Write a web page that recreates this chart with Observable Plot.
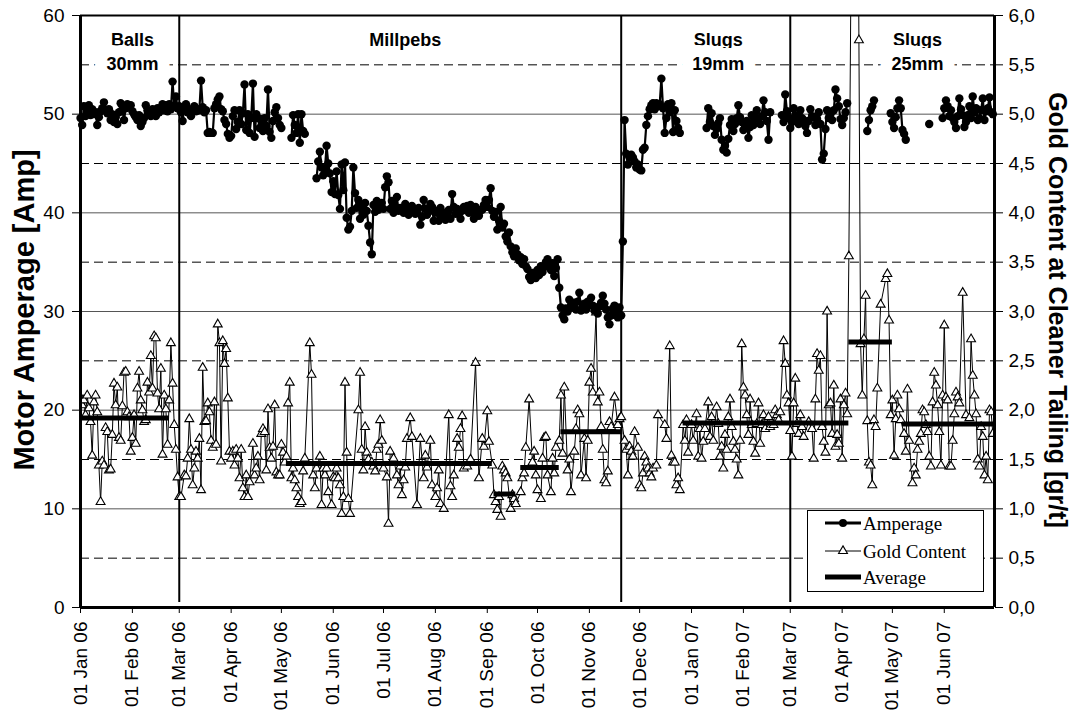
<!DOCTYPE html>
<html>
<head>
<meta charset="utf-8">
<script src="https://cdn.jsdelivr.net/npm/d3@7"></script>
<script src="https://cdn.jsdelivr.net/npm/@observablehq/plot@0.6"></script>
<style>
  html, body { margin: 0; padding: 0; background: #fff; }
  #chart { width: 1073px; height: 712px; }
</style>
</head>
<body>
<div id="chart"></div>
<script>
// ---------- DATA ----------
// day offsets from 01 Jan 2006
const startDate = Date.UTC(2006, 0, 1);
const endDay = 546; // 01 Jul 2007

// Amperage runs: [first day, daily values]
const ampBalls = [0, [49.6,48.9,50.8,49.8,50.3,50.9,49.9,50.5,50.0,50.2,48.9,49.7,50.3,50.6,51.2,50.4,50.1,50.5,49.4,50.0,
  49.2,49.7,49.0,50.2,51.1,50.4,49.4,50.6,51.0,50.8,50.9,50.3,50.0,49.7,49.4,49.9,48.8,49.2,49.6,50.9,
  50.4,50.1,49.8,50.5,50.3,49.8,50.6,50.2,50.6,51.0,50.4,50.9,50.3,51.0,50.5,53.3,50.8,51.8,50.6,
  50.8,50.2,49.3,50.6,51.0,50.2,50.5,49.8,50.4,50.8,50.3,50.5,50.4,53.4,50.7,50.2,50.4,48.1,48.2,48.1,
  48.1,50.6,51.0,51.5,51.8,50.5,50.3,49.4,49.0,48.0,47.6,47.8,49.8,50.4,48.5,49.2,50.4,49.0,50.1,53.0,
  48.4,50.0,48.1,49.6,53.1,47.7,50.0,49.6,48.6,49.5,48.3,49.6,48.8,52.5,48.2,47.6,49.3,50.2,50.7,49.6,
  48.9,48.6]];
const ampMillpebsA = [126, [47.6,49.9,48.9,48.1,50.0,47.1,50.0,48.3,48.0]];
const ampMillpebsB = [141, [43.5,45.2,46.2,44.6,43.8,44.4,46.8,45.0,44.0,42.1,
  43.2,41.9,44.2,41.8,40.4,44.9,42.3,45.1,39.5,38.3,
  38.6,40.2,44.6,42.0,40.5,41.3,39.4,40.6,39.8,41.0,
  40.2,38.7,37.0,35.8,40.8,40.1,41.2,40.3,40.6,41.0,
  40.4,42.6,43.7,43.1,40.4,41.2,40.0,40.6,41.6,40.2,
  40.5,40.3,40.0,40.9,40.5,39.8,40.3,40.7,40.3,39.9,
  40.0,40.5,38.8,39.6,41.3,40.4,39.8,40.1,40.9,40.6,
  39.2,40.2,40.0,39.2,40.5,40.1,39.7,39.3,39.6,40.3,
  39.4,41.9,40.6,39.9,40.4,39.9,39.4,40.2,40.6,40.3,
  40.7,40.0,40.8,40.1,39.4,40.6,40.2,39.7,40.3,
  40.3,40.8,41.3,40.6,41.3,42.5,40.2,39.6,40.1,38.3,
  39.2,40.6,38.5,38.9,37.6,37.1,38.0,36.6,36.0,35.6,
  36.4,35.8,35.2,35.5,34.8,35.3,34.6,34.3,33.5,33.2,
  33.9,33.9,33.4,34.2,33.7,34.6,34.0,34.5,35.0,35.3,
  34.8,34.2,34.9,33.6,34.4,35.3,32.4,30.4,29.6,29.2,
  30.3,30.0,31.2,30.6,30.4,30.9,30.2,31.0,31.9,30.1,
  30.5,30.8,30.2,31.0,30.7,31.4,30.6,30.1,30.4,29.8,
  30.5,30.9,31.6,30.8,30.2,29.4,28.7,29.6,30.3,30.6,
  30.0,29.4,30.4,29.6,37.1,49.4,46.0,44.9,45.6,45.9,
  45.6,45.2,44.6,44.9,44.4,44.3,46.4,46.6,48.9,49.8,
  50.5,50.9,51.1,50.5,51.1,50.8,51.0,53.6,50.6,48.1,
  49.6,51.0,50.2,51.1,48.2,50.4,49.3,48.6,48.1]];
const ampSlugs19 = [374, [48.6,50.6,49.2,50.1,48.8,47.9,48.5,49.1,49.6,47.4,
  46.4,46.8,46.1,47.5,48.9,49.5,48.3,49.0,49.6,50.9,
  49.7,49.2,48.4,48.8,49.3,47.6,48.7,49.9,48.9,49.6,
  50.4,49.5,49.0,49.8,51.4,50.2,49.3,47.4,50.2]];
const ampSlugs25A = [419, [49.9,49.2,52.0,50.3,49.6,48.6,49.2,50.6,49.9,49.4,
  49.0,50.4,49.6,49.4,48.8,48.1,49.3,50.5,49.8,49.7,
  48.9,49.5,50.2,49.0,45.4,46.0,48.5,50.4,49.6,50.0,
  49.4,50.4,52.5,51.6,50.8,49.5,48.9,49.6,50.2,51.1]];
const ampSlugs25B = [470, [48.3,49.4,50.4,50.8,51.4]];
const ampSlugs25C = [484, [50.1,49.2,48.6,49.7,50.6,51.4,50.6,48.4,48.0,47.4]];
const ampSlugs25D = [507, [49.0]];
const ampSlugs25E = [515, [49.6,50.6,51.4,50.8,49.8,50.4,49.6,49.2,48.6,49.8,
  51.6,50.5,49.9,48.7,49.2,49.9,50.8,49.6,51.8,50.2,
  50.6,49.4,49.6,50.4,51.6,49.4,50.3,50.6,51.7,50.2,50.0]];

// Gold content [day, g/t]
const goldBalls = [[0,2.13],[1,2.05],[2,2.10],[3,1.95],[4,2.15],[5,2.02],[6,1.88],[7,1.54],[8,2.08],[9,2.15],[10,1.98],[11,1.44],[12,1.07],[13,1.48],[14,1.44],[15,1.82],[16,1.78],[17,1.39],[18,1.40],[19,1.75],[20,2.27],[21,2.05],[22,2.23],[23,1.72],[24,1.69],[25,2.04],[26,2.38],[27,2.39],[28,1.98],[29,1.93],[30,1.58],[31,1.72],[32,1.95],[33,1.66],[34,2.22],[35,2.39],[36,2.10],[37,2.00],[38,1.88],[39,1.90],[40,2.28],[41,2.18],[42,2.55],[43,2.22],[44,2.75],[45,2.73],[46,2.17],[47,2.01],[48,2.42],[49,1.55],[50,2.15],[51,2.01],[52,1.65],[53,2.10],[54,2.68],[55,2.27],[56,1.85],[57,1.60],[58,1.32]];
const goldMillpebs = [[59,1.12],[60,1.12],[62,1.34],[63,1.33],[64,1.51],[65,1.91],[66,1.60],[67,1.24],[68,1.41],[69,1.58],[70,1.51],[71,1.71],[72,1.19],[73,2.43],[74,1.88],[75,1.89],[76,2.07],[77,1.98],[78,1.69],[79,1.62],[80,2.08],[81,1.65],[82,2.87],[83,2.68],[84,1.48],[85,2.70],[86,2.47],[87,2.62],[88,2.12],[89,1.58],[90,1.51],[91,1.58],[92,1.44],[93,1.60],[94,1.51],[95,1.31],[96,1.60],[97,1.21],[98,1.12],[99,1.34],[100,1.12],[101,1.27],[103,1.66],[104,1.34],[105,1.41],[106,1.53],[107,1.29],[108,1.76],[109,1.81],[110,1.78],[111,1.39],[112,2.01],[113,1.62],[114,1.51],[115,1.63],[116,2.05],[117,1.37],[118,1.34],[119,1.34],[120,1.65],[121,1.57],[122,1.47],[123,1.53],[124,2.07],[125,2.28],[126,1.31],[127,1.41],[128,1.29],[129,1.21],[130,1.12],[131,1.05],[132,1.07],[133,1.38],[134,1.51],[137,2.68],[138,2.36],[139,1.34],[140,1.21],[141,1.41],[143,1.53],[144,1.04],[145,1.41],[146,1.34],[147,1.41],[148,1.17],[150,1.04],[151,1.32],[152,1.31],[153,1.41],[154,1.31],[155,1.24],[156,0.95],[157,1.12],[158,2.28],[159,1.57],[160,1.10],[161,0.95],[166,2.00],[167,2.38],[168,1.60],[169,1.39],[170,1.83],[171,1.57],[172,1.50],[174,1.47],[175,1.43],[176,1.38],[177,1.60],[178,1.65],[179,1.90],[180,1.69],[181,1.41],[183,1.32],[184,0.85],[185,1.58],[187,1.51],[189,1.34],[190,1.24],[191,1.43],[192,1.14],[193,1.29],[194,1.42],[195,1.71],[197,1.92],[198,1.73],[201,1.04],[203,1.71],[205,1.31],[206,1.54],[207,1.42],[209,1.69],[210,1.24],[212,1.12],[213,1.21],[214,1.39],[215,1.05],[217,1.00],[220,1.95],[221,1.23],[222,1.12],[223,1.34],[225,1.71],[226,1.62],[227,1.81],[228,1.94],[229,1.41],[231,1.43],[233,1.50],[236,2.48],[238,1.31],[240,1.71],[241,1.63],[243,1.99],[244,1.68],[246,1.44],[247,1.14],[248,1.07],[249,0.99],[250,1.12],[251,0.92],[252,1.43],[253,1.39],[254,1.36],[255,1.31],[257,1.00],[258,1.14],[259,1.10],[260,1.05],[263,1.17],[264,1.31],[265,1.36],[266,1.62],[268,2.11],[270,1.47],[271,1.58],[272,1.34],[273,1.19],[275,1.10],[276,1.51],[277,1.72],[278,1.73],[279,1.34],[281,1.17],[282,1.51],[283,1.36],[284,1.62],[286,1.69],[287,2.15],[288,1.56],[289,2.23],[291,1.39],[292,1.50],[293,1.17],[295,1.58],[296,1.81],[297,2.00],[298,1.96],[299,1.34],[301,1.71],[302,1.31],[303,1.69],[304,2.28],[305,2.42],[306,2.18],[308,2.99],[309,2.08],[310,2.18],[311,1.83],[312,1.60],[313,1.29],[314,1.26],[315,1.38],[316,1.88],[317,1.83],[319,2.13],[321,1.85],[322,1.91],[323,1.93]];
const goldSlugs19 = [[325,1.69],[326,1.60],[327,1.34],[328,1.63],[329,1.58],[330,1.53],[331,1.78],[333,1.62],[334,1.24],[335,1.21],[336,1.36],[337,1.53],[338,1.47],[339,1.41],[340,1.36],[341,1.32],[342,1.41],[344,1.44],[345,1.95],[349,1.85],[350,1.71],[352,2.65],[353,1.54],[354,1.47],[355,1.47],[356,1.24],[357,1.31],[358,1.19],[360,1.85],[361,1.69],[362,1.90],[363,1.57],[365,1.85],[366,1.69],[368,1.96],[369,1.53],[370,1.81],[371,1.51],[372,1.68],[373,1.81],[375,2.08],[376,1.73],[377,1.93],[378,1.69],[380,2.03],[381,1.86],[382,1.53],[383,1.63],[384,1.41],[385,1.75],[386,1.60],[387,1.93],[388,2.11],[389,1.83],[390,1.68],[391,1.60],[392,1.50],[393,1.34],[394,1.69],[395,2.67],[396,2.23],[397,2.15],[398,1.95],[399,1.75],[400,2.11],[401,1.85],[402,1.68],[403,1.56],[404,1.86],[405,2.07],[406,1.66],[407,1.85],[408,1.95],[409,1.81],[411,1.93],[412,1.83],[414,1.85],[415,2.00],[416,1.95],[417,1.90],[418,1.98],[420,2.70],[421,2.47],[422,2.15],[423,2.07]];
const goldSlugs25 = [[424,1.79],[425,1.53],[426,2.07],[427,2.32],[428,1.86],[429,1.76],[430,1.95],[431,1.83],[432,1.73],[435,1.88],[437,1.81],[438,1.51],[439,2.11],[440,2.57],[441,2.40],[442,2.55],[443,1.83],[444,1.68],[445,1.57],[446,3.00],[447,2.05],[448,2.07],[449,1.76],[450,2.25],[451,1.63],[452,1.75],[453,1.66],[454,2.11],[455,1.51],[456,2.05],[457,2.17],[458,1.96],[459,3.56],[463,12.5],[465,5.75],[466,2.67],[467,2.15],[468,2.72],[469,3.16],[470,1.89],[471,1.47],[472,1.44],[473,1.24],[474,1.90],[475,1.83],[476,2.22],[478,3.07],[481,3.33],[482,3.38],[483,2.91],[484,1.95],[485,2.10],[486,1.54],[487,1.91],[488,2.15],[489,2.01],[490,1.90],[492,1.76],[493,1.58],[494,2.21],[495,1.69],[497,1.26],[498,1.41],[499,1.34],[500,1.60],[501,1.68],[502,1.76],[503,2.00],[504,1.98],[505,1.85],[506,1.78],[507,1.53],[508,1.43],[509,2.08],[510,2.38],[511,2.25],[512,2.05],[513,1.78],[514,1.44],[515,2.15],[516,2.86],[517,2.13],[518,2.10],[519,1.43],[520,1.43],[521,1.69],[522,1.96],[523,2.18],[524,2.13],[525,2.07],[527,3.19],[529,1.95],[531,1.92],[532,2.72],[533,2.35],[534,2.15],[535,1.96],[536,1.50],[537,1.43],[538,1.83],[539,1.73],[540,1.34],[541,1.53],[542,1.29],[543,2.00],[544,1.98],[545,1.76]];

// Average gold content per period: [from day, to day, g/t]
const averages = [[0,53,1.92],[123,246,1.46],[247,260,1.15],[263,286,1.42],[287,324,1.78],[360,459,1.87],[459,485,2.69],[491,546,1.86]];

// Media change separators (day)
const separators = [59, 323, 424];

// Media labels and their anchor day
const mediaNames = ["Balls\n30mm", "Millpebs", "Slugs\n19mm", "Slugs\n25mm"];
const mediaLabelDays = [31, 194, 381, 500];

const ampTicks = [0,10,20,30,40,50,60];
const goldTicks = [0,0.5,1,1.5,2,2.5,3,3.5,4,4.5,5,5.5,6];

// ---------- BUILD ----------
const day = d => new Date(startDate + d * 864e5);
const ampRuns = [ampBalls, ampMillpebsA, ampMillpebsB, ampSlugs19, ampSlugs25A, ampSlugs25B, ampSlugs25C, ampSlugs25D, ampSlugs25E];
const amp = ampRuns.flatMap(([s, vals], i) => vals.map((v, k) => ({date: day(s + k), value: v, run: i})));
const gold = [...goldBalls, ...goldMillpebs, ...goldSlugs19, ...goldSlugs25].map(([d, v]) => ({date: day(d), value: v * 10}));
const avg = averages.map(([a, b, v]) => ({x1: day(a), x2: day(b), y: v * 10}));
const labels = mediaNames.map((t, i) => ({text: t, date: day(mediaLabelDays[i])}));
const monthTicks = d3.utcMonths(day(0), day(endDay));
const fmt = d3.utcFormat("%d %b %y");

const chart = Plot.plot({
  width: 1073, height: 712,
  marginLeft: 80, marginRight: 79, marginTop: 15, marginBottom: 105,
  x: {type: "utc", domain: [day(0), day(endDay)]},
  y: {domain: [0, 60]},
  style: {fontFamily: "'Liberation Sans', Arial, sans-serif", fontSize: "19px", color: "black", background: "white", overflow: "visible"},
  marks: [
    Plot.ruleY([10,20,30,40,50], {stroke: "#555", strokeWidth: 1}),
    Plot.ruleY([5,15,25,35,45,55], {stroke: "black", strokeWidth: 1, strokeDasharray: "9,5"}),
    Plot.text(labels, {x: "date", y: 60, text: "text", fontWeight: "bold", fontSize: 18, lineAnchor: "top", dy: 14, lineHeight: 1.3,
      fill: "black", stroke: "white", strokeWidth: 24, strokeLinejoin: "round"}),
    Plot.ruleX(separators.map(day), {y1: 0.5, y2: 60, stroke: "black", strokeWidth: 2}),
    Plot.line(gold, {x: "date", y: "value", stroke: "black", strokeWidth: 1, clip: true}),
    Plot.dot(gold, {x: "date", y: "value", symbol: "triangle", r: 3.3, fill: "white", stroke: "black", strokeWidth: 1.1, clip: true}),
    Plot.ruleY(avg, {x1: "x1", x2: "x2", y: "y", stroke: "black", strokeWidth: 5}),
    Plot.line(amp, {x: "date", y: "value", z: "run", stroke: "black", strokeWidth: 2.2}),
    Plot.dot(amp, {x: "date", y: "value", r: 4.2, fill: "black"}),
    Plot.axisY({anchor: "left", ticks: ampTicks, tickSize: 8, tickPadding: 8, label: null}),
    Plot.axisY({anchor: "right", ticks: goldTicks.map(d => d * 10), tickFormat: d => (d / 10).toFixed(1).replace(".", ","), tickSize: 8, tickPadding: 6, label: null}),
    Plot.axisX({ticks: monthTicks, tickFormat: fmt, tickRotate: -90, tickSize: 6, tickPadding: 8, label: null}),
    Plot.ruleY([60], {stroke: "black", strokeWidth: 2}),
    Plot.ruleY([0], {stroke: "black", strokeWidth: 3}),
    Plot.ruleX([day(0), day(endDay)], {stroke: "black", strokeWidth: 3})
  ]
});
document.getElementById("chart").appendChild(chart);

// axis titles and legend
const svg = d3.select(chart);
svg.append("text")
  .attr("transform", "translate(24,310) rotate(-90)")
  .attr("text-anchor", "middle").attr("dominant-baseline", "central")
  .attr("font-family", "'Liberation Sans', Arial, sans-serif")
  .attr("font-weight", "bold").attr("font-size", 29).attr("fill", "black")
  .text("Motor Amperage [Amp]");
svg.append("text")
  .attr("transform", "translate(1058,310) rotate(90)")
  .attr("text-anchor", "middle").attr("dominant-baseline", "central")
  .attr("font-family", "'Liberation Sans', Arial, sans-serif")
  .attr("font-weight", "bold").attr("font-size", 25).attr("fill", "black")
  .text("Gold Content at Cleaner Tailing [gr/t]");

const lg = svg.append("g").attr("font-family", "'Liberation Serif', 'Times New Roman', serif").attr("font-size", 19).attr("text-anchor", "start");
lg.append("rect").attr("x", 807.5).attr("y", 510.5).attr("width", 176).attr("height", 81).attr("fill", "white").attr("stroke", "black").attr("stroke-width", 1);
const items = [
  {name: "Amperage", y: 523, w: 3, mark: "dot"},
  {name: "Gold Content", y: 551, w: 1, mark: "tri"},
  {name: "Average", y: 577, w: 5, mark: null}
];
items.forEach(it => {
  lg.append("line").attr("x1", 825).attr("x2", 861).attr("y1", it.y).attr("y2", it.y).attr("stroke", "black").attr("stroke-width", it.w);
  if (it.mark === "dot") lg.append("circle").attr("cx", 843).attr("cy", it.y).attr("r", 4).attr("fill", "black");
  if (it.mark === "tri") lg.append("path").attr("d", d3.symbol(d3.symbolTriangle, Math.PI * 3.3 * 3.3)()).attr("transform", `translate(843,${it.y})`).attr("fill", "white").attr("stroke", "black").attr("stroke-width", 1.1);
  lg.append("text").attr("x", 863).attr("y", it.y).attr("dy", "0.35em").attr("text-anchor", "start").attr("fill", "black").text(it.name);
});
</script>
</body>
</html>
